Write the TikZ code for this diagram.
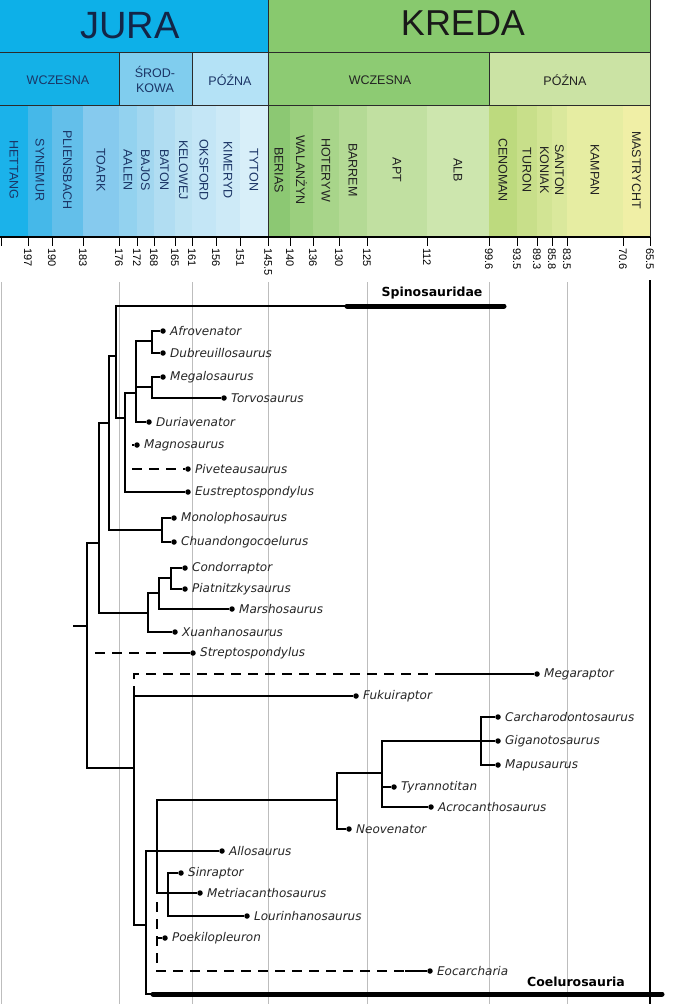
\documentclass[tikz,border=0pt]{standalone}
\usepackage{fontspec}
\setmainfont{Liberation Sans}
\newfontfamily\cladefont{DejaVu Sans}
\usetikzlibrary{positioning}
\definecolor{bandline}{HTML}{2B2B2B}
\definecolor{guide}{HTML}{BDBDBD}
\definecolor{jtext}{HTML}{1B3566}
\definecolor{ktext}{HTML}{222222}
\definecolor{jura}{HTML}{0DB0E8}
\definecolor{kreda}{HTML}{88C96E}
\definecolor{jwcz}{HTML}{14B1E7}
\definecolor{jsrod}{HTML}{80CDEE}
\definecolor{jpozn}{HTML}{B4E2F6}
\definecolor{kwcz}{HTML}{8DCB73}
\definecolor{kpozn}{HTML}{CBE3A4}
\definecolor{hett}{HTML}{1BB2EA}
\definecolor{syne}{HTML}{45B8E9}
\definecolor{plie}{HTML}{63BFEA}
\definecolor{toar}{HTML}{86CAEE}
\definecolor{aale}{HTML}{93D2EF}
\definecolor{bajo}{HTML}{A2D7F0}
\definecolor{bato}{HTML}{B1DDF2}
\definecolor{kelo}{HTML}{BDE3F3}
\definecolor{oksf}{HTML}{C4E6F6}
\definecolor{kime}{HTML}{CDEAF7}
\definecolor{tyto}{HTML}{D8EFF9}
\definecolor{beri}{HTML}{8CC873}
\definecolor{wala}{HTML}{9BCF7E}
\definecolor{hote}{HTML}{A8D58A}
\definecolor{barr}{HTML}{B4DA95}
\definecolor{aptc}{HTML}{C1E0A1}
\definecolor{albc}{HTML}{CDE6AE}
\definecolor{ceno}{HTML}{BDDA7E}
\definecolor{turo}{HTML}{C8DF8A}
\definecolor{koni}{HTML}{D2E494}
\definecolor{sant}{HTML}{DAE89C}
\definecolor{kamp}{HTML}{E6EDA2}
\definecolor{mast}{HTML}{F0EFA6}

\begin{document}
\begin{tikzpicture}[x=1pt,y=-1pt,
  sepline/.style={draw=bandline, line width=0.9pt},
  stagename/.style={rotate=-90, inner sep=0pt, font=\fontsize{12.5}{12.5}\selectfont},
  epochname/.style={align=center, inner sep=0pt, font=\fontsize{12.5}{15}\selectfont},
  agetick/.style={draw=black, line width=1pt},
  agelabel/.style={rotate=-90, anchor=west, inner sep=1pt, font=\fontsize{11}{11}\selectfont},
  branch/.style={line width=1.2pt},
  dashbranch/.style={branch, dash pattern=on 10pt off 7pt},
  leaf/.style={circle, fill=black, inner sep=0pt, minimum size=5.5pt},
  taxon/.style={right=3pt, inner sep=1pt, font=\cladefont\itshape\fontsize{12}{12}\selectfont, text=black!85},
  clade/.style={inner sep=1pt, font=\cladefont\bfseries\fontsize{12.5}{12.5}\selectfont},
  cladebar/.style={line width=5pt, line cap=round}]
  \fill[white] (0,0) rectangle (673,1004);
  \useasboundingbox (0,0) rectangle (673,1004);
  % periods
  \fill[jura] (0,0) rectangle (268,52);
  \fill[kreda] (268,0) rectangle (650,52);
  \node[font=\fontsize{38}{38}\selectfont, text=jtext!70!black] (jura) at (130,26) {JURA};
  \node[font=\fontsize{36}{36}\selectfont, text=black!90] (kreda) at (463,23) {KREDA};
  % epochs
  \foreach \xa/\xb/\col in {0/119/jwcz, 119/192/jsrod, 192/268/jpozn, 268/489/kwcz, 489/650/kpozn}
    \fill[\col] (\xa,52) rectangle (\xb,105);
  \node[epochname, text=jtext] (jwcz) at (58,80) {WCZESNA};
  \node[epochname, text=jtext] (jsrod) at (155,79) {ŚROD-\\KOWA};
  \node[epochname, text=jtext] (jpozn) at (230,80) {PÓŹNA};
  \node[epochname, text=ktext] (kwcz) at (380,80) {WCZESNA};
  \node[epochname, text=ktext] (kpozn) at (565,80) {PÓŹNA};
  % stages
  \foreach \xa/\xb/\col/\txt/\name [count=\i] in {0/28/hett/jtext/HETTANG, 28/52/syne/jtext/SYNEMUR,
      52/83/plie/jtext/PLIENSBACH, 83/119/toar/jtext/TOARK, 119/137/aale/jtext/AALEN,
      137/154/bajo/jtext/BAJOS, 154/175/bato/jtext/BATON, 175/192/kelo/jtext/KELOWEJ,
      192/216/oksf/jtext/OKSFORD, 216/240/kime/jtext/KIMERYD, 240/268/tyto/jtext/TYTON,
      268/290/beri/ktext/BERIAS, 290/313/wala/ktext/WALANŻYN, 313/339/hote/ktext/HOTERYW,
      339/367/barr/ktext/BARREM, 367/427/aptc/ktext/APT, 427/489/albc/ktext/ALB,
      489/517/ceno/ktext/CENOMAN, 517/537/turo/ktext/TURON, 537/552/koni/ktext/KONIAK,
      552/567/sant/ktext/SANTON, 567/623/kamp/ktext/KAMPAN, 623/650/mast/ktext/MASTRYCHT} {
    \fill[\col] (\xa,105) rectangle (\xb,237);
    \node[stagename, text=\txt] (stage\i) at ({(\xa+\xb)/2},170) {\name};
    \draw[sepline] (\xb,105) -- (\xb,237);
  }
  \draw[sepline] (0,52) -- (650,52);
  \draw[sepline] (0,105) -- (650,105);
  \foreach \x in {119,192,489} \draw[sepline] (\x,52) -- (\x,105);
  \draw[sepline] (268,0) -- (268,237);
  \draw[sepline] (650,0) -- (650,237);
  \draw[draw=black, line width=1.4pt] (0,237) -- (650,237);
  % ages
  \draw[agetick] (1,237) -- (1,246);
  \foreach \x/\lab [count=\i] in {28/197, 52/190, 83/183, 119/176, 137/172, 154/168, 175/165,
      192/161, 216/156, 240/151, 268/145.5, 290/140, 313/136, 339/130, 367/125, 427/112,
      489/99.6, 517/93.5, 537/89.3, 552/85.8, 567/83.5, 623/70.6, 650/65.5} {
    \draw[agetick] (\x,237) -- (\x,246);
    \node[agelabel] (age\i) at (\x,247) {\lab};
  }
  % guides
  \foreach \x in {1,119,192,268,367,489,567}
    \draw[guide, line width=1pt] (\x,282) -- (\x,1004);
  \draw[black, line width=1.3pt] (650,280) -- (650,1004);

  % tree points
  \coordinate (root) at (73,626);
  \coordinate (n87) at (87,626);
  \coordinate (n99) at (99,543);
  \coordinate (n109) at (109,423);
  \coordinate (n116) at (116,356);
  \coordinate (n125) at (125,418);
  \coordinate (n136) at (136,393);
  \coordinate (n152a) at (152,341);
  \coordinate (n152b) at (152,387);
  \coordinate (n162) at (162,530);
  \coordinate (n148) at (148,613);
  \coordinate (n159) at (159,593);
  \coordinate (n171) at (171,578);
  \coordinate (n134) at (134,768);
  \coordinate (n146) at (146,925);
  \coordinate (n157) at (157,851);
  \coordinate (n168) at (168,893);
  \coordinate (n337) at (337,800);
  \coordinate (n382) at (382,773);
  \coordinate (n481) at (481,741);
  \coordinate (spino) at (347,306);
  \coordinate (spinoend) at (504,306);
  \coordinate (coelu) at (153,994);
  \coordinate (coeluend) at (662,994);
  \coordinate (magnos) at (132,445);
  \coordinate (pivets) at (132,469);
  \coordinate (streps) at (95,653);
  \coordinate (strepm) at (173,653);
  \coordinate (megarm) at (445,674);
  \coordinate (poekis) at (157,938);
  \coordinate (eocars) at (157,902);
  \coordinate (eocarm) at (405,971);

  % leaves
  \foreach \n/\x/\y/\t in {afro/163/331/Afrovenator, dubre/163/353/Dubreuillosaurus,
      megal/163/377/Megalosaurus, torvo/224/398/Torvosaurus, duria/149/422/Duriavenator,
      magno/137/445/Magnosaurus, pivet/188/469/Piveteausaurus, eustr/188/492/Eustreptospondylus,
      monol/174/518/Monolophosaurus, chuan/174/542/Chuandongocoelurus,
      condo/185/568/Condorraptor, piatn/185/589/Piatnitzkysaurus, marsh/232/609/Marshosaurus,
      xuan/175/632/Xuanhanosaurus, strep/193/653/Streptospondylus, megar/537/674/Megaraptor,
      fuku/356/696/Fukuiraptor, carch/498/717/Carcharodontosaurus, gigan/498/741/Giganotosaurus,
      mapus/498/765/Mapusaurus, tyran/394/787/Tyrannotitan, acroc/431/807/Acrocanthosaurus,
      neove/349/829/Neovenator, allo/222/851/Allosaurus, sinra/181/873/Sinraptor,
      metri/200/893/Metriacanthosaurus, louri/247/916/Lourinhanosaurus,
      poeki/165/938/Poekilopleuron, eocar/430/971/Eocarcharia} {
    \node[leaf] (\n) at (\x,\y) {};
    \node[taxon, right=3pt of \n] (\n-l) {\t};
  }

  % branches
  \draw[branch] (root) -- (n87);
  \draw[branch] (n87) |- (n99);
  \draw[branch] (n87) |- (n134);
  \draw[branch] (n99) |- (n109);
  \draw[branch] (n99) |- (n148);
  \draw[branch] (n109) |- (n116);
  \draw[branch] (n109) |- (n162);
  \draw[branch] (n116) |- (spino);
  \draw[branch] (n116) |- (n125);
  \draw[branch] (n125) |- (n136);
  \draw[branch] (n125) |- (eustr);
  \draw[branch] (n136) |- (n152a);
  \draw[branch] (n136) |- (n152b);
  \draw[branch] (n136) |- (duria);
  \draw[branch] (n152a) |- (afro);
  \draw[branch] (n152a) |- (dubre);
  \draw[branch] (n152b) |- (megal);
  \draw[branch] (n152b) |- (torvo);
  \draw[branch] (magnos) -- (magno);
  \draw[dashbranch] (pivets) -- (pivet);
  \draw[branch] (n162) |- (monol);
  \draw[branch] (n162) |- (chuan);
  \draw[branch] (n148) |- (n159);
  \draw[branch] (n148) |- (xuan);
  \draw[branch] (n159) |- (n171);
  \draw[branch] (n159) |- (marsh);
  \draw[branch] (n171) |- (condo);
  \draw[branch] (n171) |- (piatn);
  \draw[dashbranch] (streps) -- (strepm);
  \draw[branch] (strepm) -- (strep);
  \draw[branch] (n134) |- (fuku);
  \draw[branch] (n134) |- (n146);
  \draw[dashbranch] (fuku -| n134) |- (megarm);
  \draw[branch] (megarm) -- (megar);
  \draw[branch] (n146) |- (allo);
  \draw[branch] (n146) |- (coelu);
  \draw[branch] (n157) |- (n337);
  \draw[branch] (n157) |- (metri);
  \draw[branch] (n168) |- (sinra);
  \draw[branch] (n168) |- (louri);
  \draw[branch] (poekis) -- (poeki);
  \draw[dashbranch] (eocars) |- (eocarm);
  \draw[branch] (eocarm) -- (eocar);
  \draw[branch] (n337) |- (n382);
  \draw[branch] (n337) |- (neove);
  \draw[branch] (n382) |- (n481);
  \draw[branch] (n382) |- (tyran);
  \draw[branch] (n382) |- (acroc);
  \draw[branch] (n481) |- (carch);
  \draw[branch] (n481) |- (gigan);
  \draw[branch] (n481) |- (mapus);
  % clades
  \draw[cladebar] (spino) -- (spinoend);
  \node[clade] (spino-l) at (432,293) {Spinosauridae};
  \draw[cladebar] (coelu) -- (coeluend);
  \node[clade] (coelu-l) at (576,982) {Coelurosauria};
\end{tikzpicture}
\end{document}
